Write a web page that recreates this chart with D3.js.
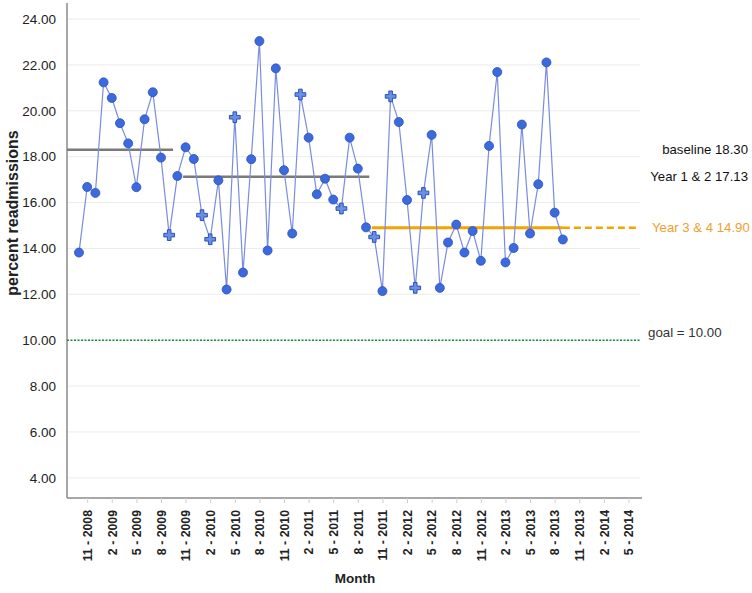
<!DOCTYPE html>
<html>
<head>
<meta charset="utf-8">
<script src="https://cdn.jsdelivr.net/npm/d3@7"></script>
<style>
  html, body { margin: 0; padding: 0; background: #fff; }
  svg { display: block; font-family: "Liberation Sans", Arial, sans-serif; }
</style>
</head>
<body>
<svg id="chart" width="752" height="593"></svg>
<script>
// ---- data (month index 0 = 10-2008) ----
const values = [
  13.82, 16.68, 16.42, 21.24, 20.56, 19.46, 18.58, 16.67, 19.63, 20.81, 17.96, 14.58,
  17.16, 18.41, 17.90, 15.45, 14.40, 16.97, 12.21, 19.72, 12.95, 17.89, 23.04, 13.91,
  21.85, 17.41, 14.65, 20.71, 18.83, 16.36, 17.04, 16.13, 15.74, 18.83, 17.48, 14.92,
  14.50, 12.14, 20.63, 19.51, 16.11, 12.28, 16.42, 18.95, 12.28, 14.26, 15.04, 13.82,
  14.76, 13.46, 18.47, 21.69, 13.39, 14.02, 19.40, 14.65, 16.80, 22.11, 15.56, 14.39
];
// points flagged with a cross marker (indices)
const crossPoints = [11, 15, 16, 19, 27, 32, 36, 38, 41, 42];

const tickLabels = [
  "11 - 2008", "2 - 2009", "5 - 2009", "8 - 2009", "11 - 2009", "2 - 2010", "5 - 2010",
  "8 - 2010", "11 - 2010", "2 - 2011", "5 - 2011", "8 - 2011", "11 - 2011", "2 - 2012",
  "5 - 2012", "8 - 2012", "11 - 2012", "2 - 2013", "5 - 2013", "8 - 2013", "11 - 2013",
  "2 - 2014", "5 - 2014"
];
const tickMonthIndex = tickLabels.map((_, k) => 1 + 3 * k);

const yTicks = [4, 6, 8, 10, 12, 14, 16, 18, 20, 22, 24];

// reference levels
const levelNames  = ["baseline 18.30", "Year 1 & 2 17.13", "Year 3 & 4 14.90"];
const levelValues = [18.30, 17.13, 14.90];
const levelStart  = [-1.46, 12.7, 35.7];
const levelEnd    = [11.47, 35.4, 59.0];
const goalValue = 10.00;
const goalLabel = "goal = 10.00";

// ---- layout ----
const svg = d3.select("#chart");
const pLeft = 67, pRight = 642, pTop = 3, pBottom = 498;

const x = d3.scaleLinear().domain([-1.46, 68.65]).range([pLeft, pRight]);
const y = d3.scaleLinear().domain([3.12, 24.7]).range([pBottom, pTop]);

// gridlines
svg.append("g").selectAll("line").data(yTicks).join("line")
  .attr("x1", pLeft).attr("x2", pRight - 2)
  .attr("y1", d => y(d)).attr("y2", d => y(d))
  .attr("stroke", "#ececec").attr("stroke-width", 1);

// y axis labels
svg.append("g").selectAll("text").data(yTicks).join("text")
  .attr("x", 56).attr("y", d => y(d))
  .attr("dy", "0.35em").attr("text-anchor", "end")
  .attr("font-size", 13.5).attr("fill", "#222")
  .text(d => d.toFixed(2));

// axes lines
svg.append("line").attr("x1", pLeft).attr("x2", pLeft).attr("y1", pTop).attr("y2", pBottom)
  .attr("stroke", "#8a8a8a").attr("stroke-width", 1.5);
svg.append("line").attr("x1", pLeft).attr("x2", pRight).attr("y1", pBottom).attr("y2", pBottom)
  .attr("stroke", "#8a8a8a").attr("stroke-width", 1.5);

// x axis via d3.axisBottom
const xAxis = d3.axisBottom(x)
  .tickValues(tickMonthIndex)
  .tickFormat((d, i) => tickLabels[i])
  .tickSize(5).tickSizeOuter(0);
const gx = svg.append("g").attr("transform", `translate(0,${pBottom})`).call(xAxis);
gx.select(".domain").remove();
gx.selectAll(".tick line").attr("stroke", "#d0d0d0");
gx.selectAll(".tick text")
  .attr("transform", "rotate(-90)")
  .attr("x", -12).attr("y", 0).attr("dy", "0.35em")
  .attr("text-anchor", "end")
  .attr("font-size", 12.3).attr("font-weight", "bold")
  .attr("font-family", "'Liberation Sans', Arial, sans-serif")
  .attr("fill", "#222");

// axis titles
svg.append("text").attr("x", 355).attr("y", 578).attr("dy", "0.35em")
  .attr("text-anchor", "middle").attr("font-size", 13.5).attr("font-weight", "bold")
  .attr("fill", "#222").text("Month");
svg.append("text").attr("transform", "translate(12,213) rotate(-90)").attr("dy", "0.35em")
  .attr("text-anchor", "middle").attr("font-size", 16).attr("font-weight", "bold")
  .attr("fill", "#222").text("percent readmissions");

// goal line
svg.append("line").attr("x1", pLeft).attr("x2", pRight - 2)
  .attr("y1", y(goalValue)).attr("y2", y(goalValue))
  .attr("stroke", "#1f8a3c").attr("stroke-width", 1.5).attr("stroke-dasharray", "2,1.5");
svg.append("text").attr("x", 648).attr("y", y(goalValue) - 8).attr("dy", "0.35em")
  .attr("font-size", 13.3).attr("fill", "#333").text(goalLabel);

// level lines
const levelColors = ["#7a7a7a", "#7a7a7a", "#f5a300"];
levelValues.forEach((v, i) => {
  svg.append("line").attr("x1", x(levelStart[i])).attr("x2", x(levelEnd[i]))
    .attr("y1", y(v)).attr("y2", y(v))
    .attr("stroke", levelColors[i]).attr("stroke-width", i === 2 ? 3 : 2.5);
});
// dashed extension of last level
svg.append("line").attr("x1", x(levelEnd[2])).attr("x2", x(68.4))
  .attr("y1", y(levelValues[2])).attr("y2", y(levelValues[2]))
  .attr("stroke", "#f5a300").attr("stroke-width", 2.5).attr("stroke-dasharray", "7,4");

// level labels
svg.append("text").attr("x", 748).attr("y", y(levelValues[0])).attr("dy", "0.35em")
  .attr("text-anchor", "end").attr("font-size", 13.2).attr("fill", "#111").text(levelNames[0]);
svg.append("text").attr("x", 748).attr("y", y(levelValues[1])).attr("dy", "0.35em")
  .attr("text-anchor", "end").attr("font-size", 13.2).attr("fill", "#111").text(levelNames[1]);
svg.append("text").attr("x", 652).attr("y", y(levelValues[2])).attr("dy", "0.35em")
  .attr("text-anchor", "start").attr("font-size", 13.2).attr("fill", "#f0a030").text(levelNames[2]);

// data line
const line = d3.line().x((d, i) => x(i)).y(d => y(d));
svg.append("path").datum(values).attr("d", line)
  .attr("fill", "none").attr("stroke", "#7a8ce0").attr("stroke-width", 1.2);

// markers
const pts = values.map((v, i) => ({ i, v, cross: crossPoints.includes(i) }));
svg.append("g").selectAll("circle").data(pts.filter(p => !p.cross)).join("circle")
  .attr("cx", d => x(d.i)).attr("cy", d => y(d.v)).attr("r", 4.5)
  .attr("fill", "#3b6ade").attr("stroke", "#2a50b8").attr("stroke-width", 0.8);
svg.append("g").selectAll("path").data(pts.filter(p => p.cross)).join("path")
  .attr("transform", d => `translate(${x(d.i)},${y(d.v)})`)
  .attr("d", d3.symbol().type(d3.symbolCross).size(64))
  .attr("fill", "#6a90e6").attr("stroke", "#2a50b8").attr("stroke-width", 1);
</script>
</body>
</html>
